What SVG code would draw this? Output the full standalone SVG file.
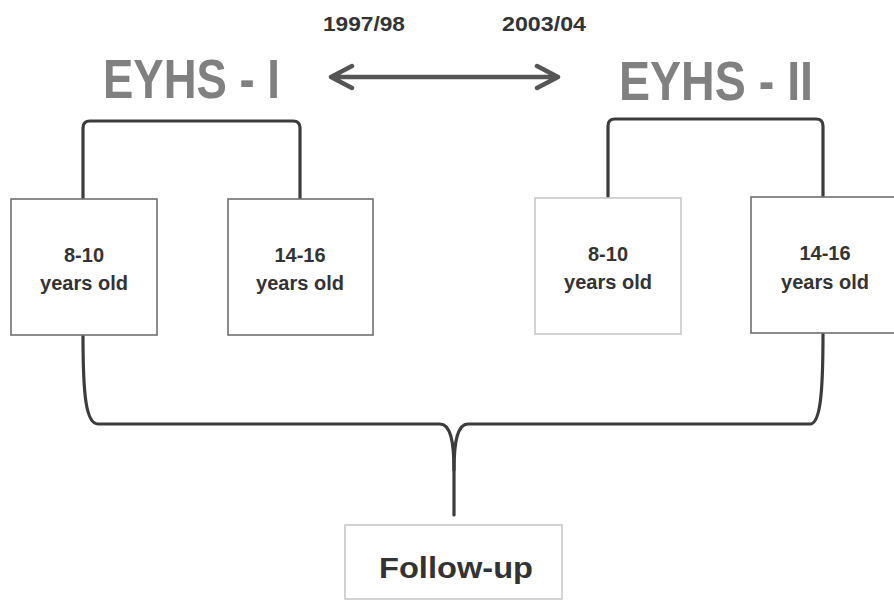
<svg xmlns="http://www.w3.org/2000/svg" width="894" height="601" viewBox="0 0 894 601">
<style>
.title{font-family:"Liberation Sans",Arial,sans-serif;font-weight:bold;font-size:55px;fill:#808080}
.year{font-family:"Liberation Sans",Arial,sans-serif;font-weight:bold;font-size:21px;fill:#333}
.lbl{font-family:"Liberation Sans",Arial,sans-serif;font-weight:bold;font-size:20px;fill:#333;text-anchor:middle}
.fu{font-family:"Liberation Sans",Arial,sans-serif;font-weight:bold;font-size:30px;fill:#333;text-anchor:middle}
.box{fill:#fff;stroke:#707070;stroke-width:1.6}
.boxl{fill:#fff;stroke:#c8c8c8;stroke-width:1.6}
.conn{fill:none;stroke:#3c3c3c;stroke-width:3.2;stroke-linecap:round;stroke-linejoin:round}
.arr{fill:none;stroke:#555;stroke-width:4.5;stroke-linecap:round;stroke-linejoin:round}
</style>
<rect width="894" height="601" fill="#fff"/>
<g id="years">
<text class="year" x="323" y="31" textLength="82" lengthAdjust="spacingAndGlyphs">1997/98</text>
<text class="year" x="502" y="31" textLength="84" lengthAdjust="spacingAndGlyphs">2003/04</text>
</g>
<g id="eyhs1"><text class="title" x="103" y="98" textLength="177" lengthAdjust="spacingAndGlyphs">EYHS - I</text></g>
<g id="eyhs2"><text class="title" x="619" y="100" textLength="194" lengthAdjust="spacingAndGlyphs">EYHS - II</text></g>
<g id="connectors">
<path class="arr" d="M331,77 L558,77 M352,66 L331,77 L352,88 M537,66 L558,77 L537,88"/>
<path class="conn" d="M83,198 L83,128 Q83,121 90,121 L293,121 Q300,121 300,128 L300,198"/>
<path class="conn" d="M608,197 L608,126 Q608,119 615,119 L816,119 Q823,119 823,126 L823,197"/>
<path class="conn" d="M83,336 C83,395 86,424 98,424 L440,424 C450,424 454,440 454,470 L454,515"/>
<path class="conn" d="M823,334 C823,395 820,424 810,424 L468,424 C458,424 454,440 454,470"/>
</g>
<g id="box1">
<rect class="box" x="11" y="199" width="146" height="136"/>
<text class="lbl" x="84" y="262">8-10</text>
<text class="lbl" x="84" y="290">years old</text>
</g>
<g id="box2">
<rect class="box" x="228" y="199" width="145" height="136"/>
<text class="lbl" x="300" y="262">14-16</text>
<text class="lbl" x="300" y="290">years old</text>
</g>
<g id="box3">
<rect class="boxl" x="535" y="198" width="146" height="136"/>
<text class="lbl" x="608" y="261">8-10</text>
<text class="lbl" x="608" y="289">years old</text>
</g>
<g id="box4">
<rect class="box" x="751" y="197" width="150" height="136"/>
<text class="lbl" x="825" y="260">14-16</text>
<text class="lbl" x="825" y="289">years old</text>
</g>
<g id="followup">
<rect class="boxl" x="345" y="525" width="217" height="74"/>
<text class="fu" x="456" y="578" textLength="154" lengthAdjust="spacingAndGlyphs">Follow-up</text>
</g>
</svg>
